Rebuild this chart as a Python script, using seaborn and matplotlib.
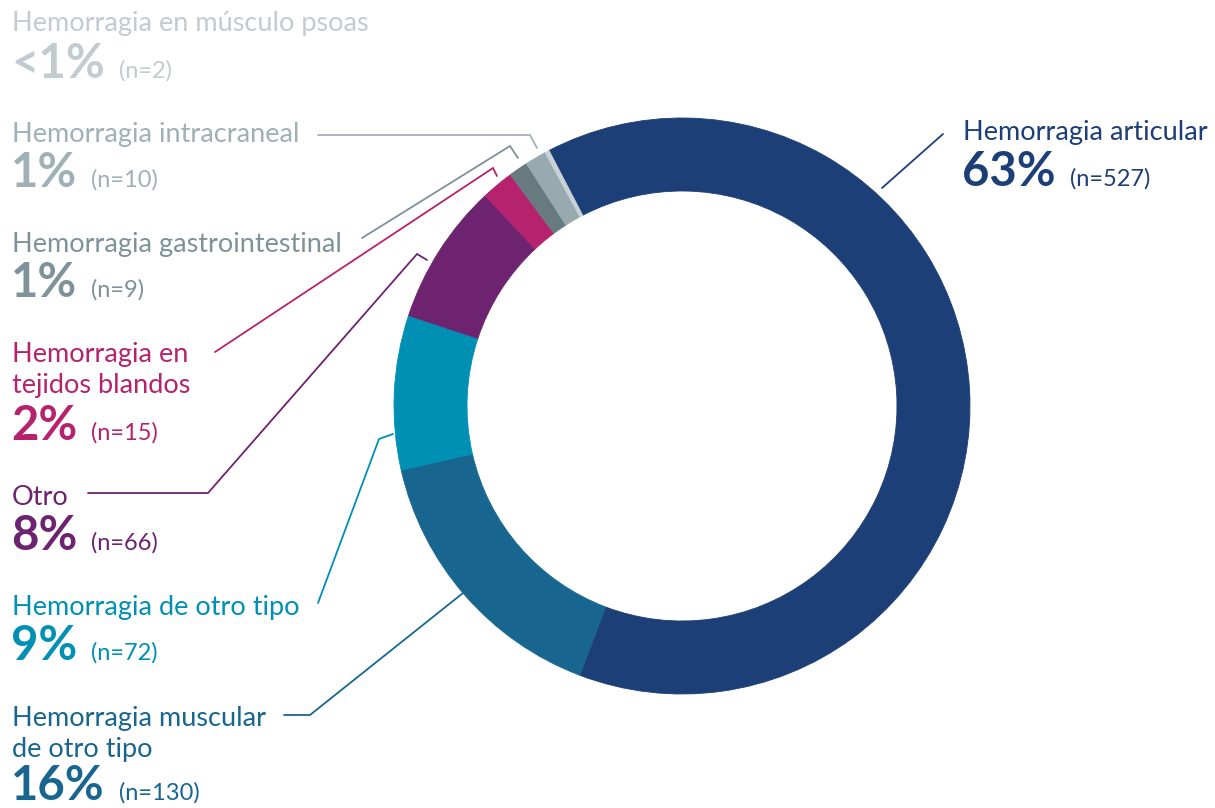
import matplotlib
matplotlib.use("Agg")
import matplotlib.pyplot as plt
import seaborn as sns

# Bleeding events by site
categories = [
    "Hemorragia articular",
    "Hemorragia muscular\nde otro tipo",
    "Hemorragia de otro tipo",
    "Otro",
    "Hemorragia en\ntejidos blandos",
    "Hemorragia gastrointestinal",
    "Hemorragia intracraneal",
    "Hemorragia en músculo psoas",
]
counts = [527, 130, 72, 66, 15, 9, 10, 2]
slice_colors = ["#1d3f77", "#186690", "#0090b4", "#6d2370",
                "#b5236e", "#677a80", "#98aab0", "#c8d1d5"]
text_colors = ["#1d3f77", "#186690", "#0090b4", "#6d2370",
               "#b5236e", "#7e9299", "#9fb0b6", "#c2cbd0"]

W, H = 1215, 808

sns.set_theme(style="white")
plt.rcParams["font.family"] = ["Lato", "DejaVu Sans"]

fig = plt.figure(figsize=(W / 100, H / 100), dpi=100)
ax = fig.add_axes([0, 0, 1, 1])


def Y(y):
    return H - y


wedges, _ = ax.pie(
    counts,
    colors=slice_colors,
    startangle=117.5,
    counterclock=False,
    radius=288,
    center=(682, Y(406)),
    wedgeprops=dict(width=73, linewidth=0.6),
)
for w in wedges:
    w.set_edgecolor(w.get_facecolor())

ax.set_xlim(0, W)
ax.set_ylim(0, H)
ax.set_aspect("equal")
ax.axis("off")

total = sum(counts)


def pct_text(n):
    p = n / total * 100
    return "<1%" if p < 0.5 else f"{round(p)}%"


# label anchor: x, baselines of name lines, baseline of percentage
label_layout = [
    (963, [140], 186),
    (12, [726, 757], 800),
    (12, [615], 660),
    (12, [505], 550),
    (12, [362, 393], 440),
    (12, [252], 297),
    (12, [142], 187),
    (12, [31], 78),
]

# leader line paths (x, y) from label to slice
leaders = [
    [(943, 134), (882, 188)],
    [(284, 715), (310, 715), (463, 593)],
    [(318, 603), (379, 439), (393, 434)],
    [(88, 493), (208, 493), (417, 254), (427, 260)],
    [(215, 352), (493, 168), (497, 176)],
    [(362, 238), (510, 146), (518, 158)],
    [(318, 135), (530, 135), (537, 148)],
    None,
]
line_colors = ["#1d3f77", "#186690", "#0090b4", "#6d2370",
               "#b5236e", "#7e9199", "#a3b3b8", None]

renderer = fig.canvas.get_renderer()

for i, name in enumerate(categories):
    x, name_bases, pct_base = label_layout[i]
    c = text_colors[i]
    for line, base in zip(name.split("\n"), name_bases):
        ax.text(x, Y(base), line, fontsize=19.5, color=c, va="baseline",
                ha="left")
    t = ax.text(x - 1, Y(pct_base), pct_text(counts[i]), fontsize=34,
                fontweight="bold", color=c, va="baseline", ha="left")
    bb = t.get_window_extent(renderer=renderer)
    ax.text(bb.x1 + 14, Y(pct_base), f"(n={counts[i]})", fontsize=17,
            fontweight="normal", color=c, va="baseline", ha="left")
    if leaders[i] is not None:
        xs = [p[0] for p in leaders[i]]
        ys = [Y(p[1]) for p in leaders[i]]
        ax.plot(xs, ys, color=line_colors[i], lw=1.3, solid_joinstyle="miter")

fig.savefig("out.png", dpi=100, facecolor="white")
